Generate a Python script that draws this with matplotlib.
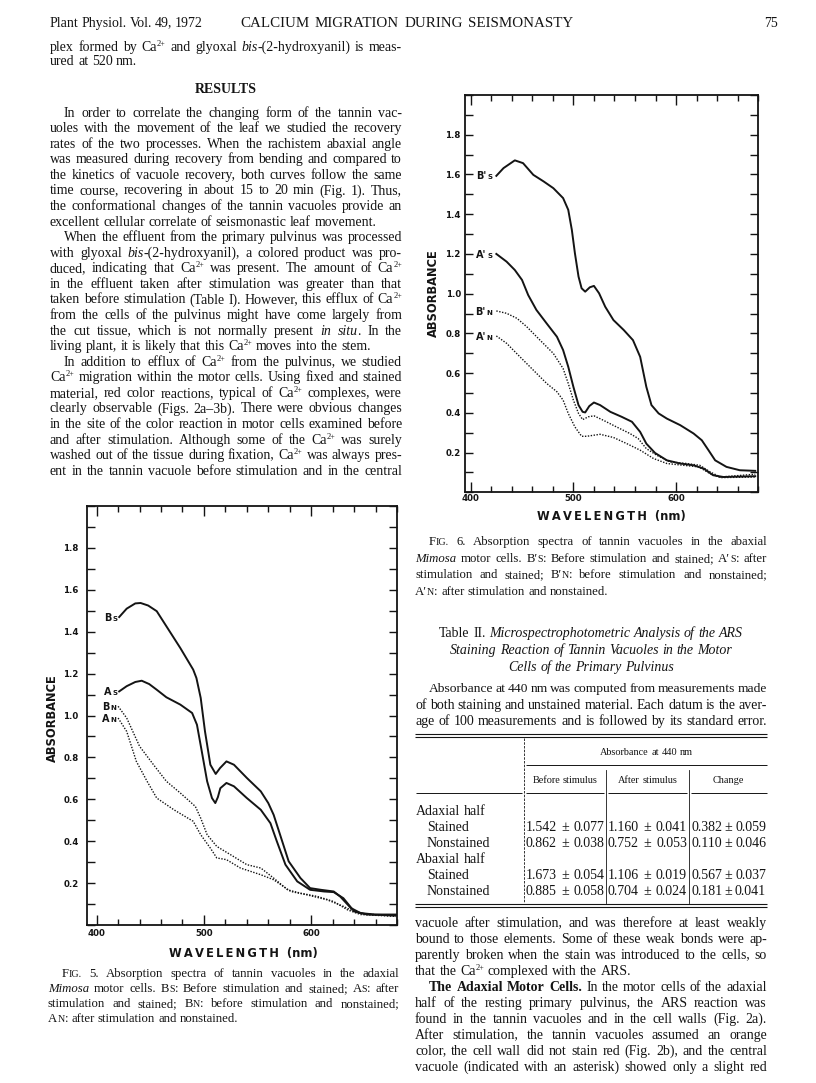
import matplotlib
matplotlib.use('Agg')
import matplotlib.pyplot as plt
from matplotlib.font_manager import FontProperties
from matplotlib.ticker import MultipleLocator

# ---------------- data: Fig. 5 (adaxial) ----------------
fig5_bs_nm = [421, 428, 436, 441, 448, 456, 465, 478, 490, 493, 497, 501, 506, 511, 515, 521, 528, 540,
              553, 560, 565, 571, 579, 590, 599, 609, 621, 627, 637, 646, 659, 679]
fig5_bs_abs = [1.47, 1.51, 1.535, 1.537, 1.525, 1.498, 1.426, 1.322, 1.219, 1.179, 1.084, 0.924, 0.765, 0.721,
               0.749, 0.781, 0.765, 0.702, 0.638, 0.582, 0.526, 0.431, 0.304, 0.224, 0.176, 0.168, 0.160,
               0.136, 0.081, 0.057, 0.050, 0.050]
fig5_as_nm = [421, 428, 436, 442, 449, 456, 465, 478, 489, 493.5, 498, 503, 507.5, 510.6, 513, 515.3, 521,
              528, 540, 553, 562, 568, 576, 587, 599, 612, 621, 630, 640, 652, 679]
fig5_as_abs = [1.115, 1.14, 1.16, 1.166, 1.15, 1.123, 1.087, 1.052, 1.012, 0.956, 0.829, 0.686, 0.606, 0.582,
               0.61, 0.653, 0.678, 0.662, 0.606, 0.55, 0.486, 0.399, 0.288, 0.208, 0.168, 0.16, 0.157, 0.128,
               0.065, 0.05, 0.046]
fig5_bn_nm = [420, 428, 440, 453, 465, 478, 492, 497, 503, 512, 525, 540, 553, 565, 578, 590, 606, 621, 634,
              646, 679]
fig5_bn_abs = [1.044, 0.988, 0.853, 0.765, 0.686, 0.63, 0.566, 0.51, 0.431, 0.375, 0.335, 0.288, 0.272, 0.224,
               0.168, 0.152, 0.136, 0.112, 0.072, 0.05, 0.041]
fig5_an_nm = [420, 428, 437, 447, 456, 472, 490, 497, 506, 512, 521, 534, 553, 565, 581, 596, 615, 630, 643, 679]
fig5_an_abs = [0.988, 0.924, 0.781, 0.686, 0.606, 0.55, 0.495, 0.431, 0.367, 0.32, 0.312, 0.272, 0.24, 0.216,
               0.16, 0.144, 0.12, 0.089, 0.057, 0.041]

# ---------------- data: Fig. 6 (abaxial) ----------------
fig6_bs_nm = [425, 432, 443, 451, 461, 471, 480.5, 490, 495, 498.5, 501.5, 505, 508, 511.5, 516, 520, 525, 531,
              539, 549, 558, 565, 571, 576, 583, 591, 604, 617, 625, 631.5, 638, 649, 662, 677]
fig6_bs_abs = [1.593, 1.632, 1.671, 1.657, 1.598, 1.565, 1.531, 1.481, 1.422, 1.321, 1.203, 1.086, 1.027, 1.01,
               1.032, 1.039, 1.002, 0.934, 0.867, 0.817, 0.766, 0.682, 0.531, 0.439, 0.397, 0.371, 0.338, 0.296,
               0.262, 0.212, 0.161, 0.128, 0.111, 0.108]
fig6_as_nm = [425, 435, 443, 450, 456, 464, 474, 484, 490, 495, 500, 505, 509, 511.5, 515.5, 520, 526, 536, 547,
              557, 565, 571, 579.5, 591, 604, 617, 627, 636, 646, 677]
fig6_as_abs = [1.2, 1.161, 1.119, 1.069, 0.993, 0.918, 0.85, 0.783, 0.716, 0.632, 0.531, 0.439, 0.405, 0.402,
               0.434, 0.452, 0.439, 0.405, 0.38, 0.355, 0.304, 0.245, 0.198, 0.161, 0.145, 0.136, 0.119, 0.086,
               0.077, 0.081]
fig6_bn_nm = [425, 435, 445, 454.5, 467.5, 480.5, 490, 495, 500, 505, 509, 514.5, 520, 529, 542, 555, 563, 571,
              581, 594, 610, 623, 633, 643, 677]
fig6_bn_abs = [0.913, 0.901, 0.876, 0.834, 0.766, 0.699, 0.623, 0.548, 0.464, 0.397, 0.366, 0.38, 0.385, 0.363,
               0.329, 0.296, 0.271, 0.22, 0.187, 0.153, 0.145, 0.136, 0.103, 0.077, 0.091]
fig6_an_nm = [425, 435, 448, 461, 474, 484, 490, 495, 501.5, 508, 513, 526, 539, 552, 565, 578, 591, 607, 622,
              633, 643, 677]
fig6_an_abs = [0.787, 0.75, 0.682, 0.615, 0.548, 0.506, 0.464, 0.397, 0.329, 0.282, 0.282, 0.292, 0.276, 0.245,
               0.212, 0.17, 0.145, 0.136, 0.128, 0.094, 0.074, 0.077]

x_ticks = [400, 500, 600]
y_ticks = [0.2, 0.4, 0.6, 0.8, 1.0, 1.2, 1.4, 1.6, 1.8]

# ---------------- data: Table II ----------------
table_groups = ['Adaxial half', 'Abaxial half']
table_subrows = ['Stained', 'Nonstained']
table_headers = ['Before stimulus', 'After stimulus', 'Change']
before_mean = [1.542, 0.862, 1.673, 0.885]
before_se = [0.077, 0.038, 0.054, 0.058]
after_mean = [1.160, 0.752, 1.106, 0.704]
after_se = [0.041, 0.053, 0.019, 0.024]
change_mean = [0.382, 0.110, 0.567, 0.181]
change_se = [0.059, 0.046, 0.037, 0.041]

# ---------------- page text ----------------
header_left = 'Plant Physiol. Vol. 49, 1972'
header_title = 'CALCIUM MIGRATION DURING SEISMONASTY'
header_page = '75'

left_top = [
    'plex formed by Ca^2+^ and glyoxal _bis_-(2-hydroxyanil) is meas-',
    'ured at 520 nm.|',
]
left_body = [
    '>In order to correlate the changing form of the tannin vac-',
    'uoles with the movement of the leaf we studied the recovery',
    'rates of the two processes. When the rachistem abaxial angle',
    'was measured during recovery from bending and compared to',
    'the kinetics of vacuole recovery, both curves follow the same',
    'time course, recovering in about 15 to 20 min (Fig. 1). Thus,',
    'the conformational changes of the tannin vacuoles provide an',
    'excellent cellular correlate of seismonastic leaf movement.|',
    '>When the effluent from the primary pulvinus was processed',
    'with glyoxal _bis_-(2-hydroxyanil), a colored product was pro-',
    'duced, indicating that Ca^2+^ was present. The amount of Ca^2+^',
    'in the effluent taken after stimulation was greater than that',
    'taken before stimulation (Table I). However, this efflux of Ca^2+^',
    'from the cells of the pulvinus might have come largely from',
    'the cut tissue, which is not normally present _in situ_. In the',
    'living plant, it is likely that this Ca^2+^ moves into the stem.|',
    '>In addition to efflux of Ca^2+^ from the pulvinus, we studied',
    'Ca^2+^ migration within the motor cells. Using fixed and stained',
    'material, red color reactions, typical of Ca^2+^ complexes, were',
    'clearly observable (Figs. 2a\u20133b). There were obvious changes',
    'in the site of the color reaction in motor cells examined before',
    'and after stimulation. Although some of the Ca^2+^ was surely',
    'washed out of the tissue during fixation, Ca^2+^ was always pres-',
    'ent in the tannin vacuole before stimulation and in the central',
]
fig5_caption = [
    '>F~ig.~ 5. Absorption spectra of tannin vacuoles in the adaxial',
    '_Mimosa_ motor cells. B~s~: Before stimulation and stained; A~s~: after',
    'stimulation and stained; B~n~: before stimulation and nonstained;',
    'A~n~: after stimulation and nonstained.|',
]
fig6_caption = [
    '>F~ig.~ 6. Absorption spectra of tannin vacuoles in the abaxial',
    '_Mimosa_ motor cells. B\u2032~s~: Before stimulation and stained; A\u2032~s~: after',
    'stimulation and stained; B\u2032~n~: before stimulation and nonstained;',
    'A\u2032~n~: after stimulation and nonstained.|',
]
table_title = [
    'Table II. _Microspectrophotometric Analysis of the ARS_',
    '_Staining Reaction of Tannin Vacuoles in the Motor_',
    '_Cells of the Primary Pulvinus_',
]
table_note = [
    '>Absorbance at 440 nm was computed from measurements made',
    'of both staining and unstained material. Each datum is the aver-',
    'age of 100 measurements and is followed by its standard error.',
]
right_bottom = [
    'vacuole after stimulation, and was therefore at least weakly',
    'bound to those elements. Some of these weak bonds were ap-',
    'parently broken when the stain was introduced to the cells, so',
    'that the Ca^2+^ complexed with the ARS.|',
    '>*The Adaxial Motor Cells.* In the motor cells of the adaxial',
    'half of the resting primary pulvinus, the ARS reaction was',
    'found in the tannin vacuoles and in the cell walls (Fig. 2a).',
    'After stimulation, the tannin vacuoles assumed an orange',
    'color, the cell wall did not stain red (Fig. 2b), and the central',
    'vacuole (indicated with an asterisk) showed only a slight red',
]

# ---------------- figure ----------------
W, H = 816, 1083
fig = plt.figure(figsize=(W / 100, H / 100), dpi=100)
fig.patch.set_facecolor('white')
renderer = fig.canvas.get_renderer()

bg = fig.add_axes([0, 0, 1, 1], zorder=-5)
bg.set_xlim(0, W)
bg.set_ylim(H, 0)
bg.axis('off')

SERIF = ['Liberation Serif', 'DejaVu Serif']
SANS = ['DejaVu Sans']
INK = '#141414'


def fprop(size, italic=False, bold=False):
    return FontProperties(family=SERIF, size=size, style='italic' if italic else 'normal',
                          weight='bold' if bold else 'normal')


def parse(line):
    words, cur, buf = [], [], ''
    st = {'i': False, 'b': False, 'p': False, 'c': False}
    keys = {'_': 'i', '*': 'b', '^': 'p', '~': 'c'}
    for ch in line:
        if ch in keys:
            if buf:
                cur.append((buf, dict(st)))
                buf = ''
            st[keys[ch]] = not st[keys[ch]]
        elif ch == ' ':
            if buf:
                cur.append((buf, dict(st)))
                buf = ''
            if cur:
                words.append(cur)
                cur = []
        else:
            buf += ch
    if buf:
        cur.append((buf, dict(st)))
    if cur:
        words.append(cur)
    return words


def seg_info(text, st, size):
    s, dy = size, 0.0
    if st['p']:
        s = size * 0.6
        dy = size * 100 / 72 * 0.36
    if st['c']:
        s = size * 0.78
        text = text.upper()
    fp = fprop(s, st['i'], st['b'])
    w, h, d = renderer.get_text_width_height_descent(text, fp, ismath=False)
    return text, fp, w, dy


def space_width(size):
    a = renderer.get_text_width_height_descent('a a', fprop(size), ismath=False)[0]
    b = renderer.get_text_width_height_descent('aa', fprop(size), ismath=False)[0]
    return a - b


def draw_line(line, x0, x1, y, size, mode='justify'):
    words = parse(line)
    n = len(words)
    while True:
        infos = [[seg_info(t, st, size) for t, st in w] for w in words]
        total = sum(sum(i[2] for i in w) for w in infos)
        sp = space_width(size)
        if mode == 'justify' and n > 1 and (x1 - x0 - total) / (n - 1) < 0.6 * sp and size > 5:
            size -= 0.1
            continue
        break
    if mode == 'justify' and n > 1:
        gap = (x1 - x0 - total) / (n - 1)
        x = x0
    else:
        gap = sp
        lw = total + gap * (n - 1)
        if mode == 'center':
            x = (x0 + x1) / 2 - lw / 2
        elif mode == 'right':
            x = x1 - lw
        else:
            x = x0
    base = y + size * 100 / 72 * 0.33
    for inf in infos:
        for text, fp, sw, dy in inf:
            bg.text(x, base - dy, text, fontproperties=fp, ha='left', va='baseline', color=INK)
            x += sw
        x += gap


def draw_block(lines, col, y0, step, size, indent=14, mode=None):
    y = y0
    for ln in lines:
        x0 = col[0]
        m = 'justify'
        if ln.startswith('>'):
            ln = ln[1:]
            x0 += indent
        if ln.endswith('|'):
            ln = ln[:-1]
            m = 'left'
        if mode is not None:
            m = mode
        draw_line(ln, x0, col[1], y, size, m)
        y += step


LCOL = (50, 402)
RCOL = (415, 767)
BODY = 10.0
CAP = 9.2

# header
draw_line(header_left, 50, 203, 22, BODY, 'justify')
draw_line(header_title, 240, 573, 22, 10.8, 'justify')
draw_line(header_page, 700, 778, 22, BODY, 'right')

# left column text
draw_block(left_top, LCOL, 46, 14.5, BODY)
draw_line('*RESULTS*', LCOL[0], LCOL[1], 88, BODY, 'center')
draw_block(left_body, LCOL, 112, 15.57, BODY)

# captions
draw_block(fig5_caption, (48, 399), 973, 15.0, CAP)
draw_block(fig6_caption, RCOL, 541, 16.6, CAP)

# table title and note
draw_block(table_title, RCOL, 632, 17.0, BODY, mode='center')
draw_block(table_note, RCOL, 688, 16.0, BODY)

# table
def hline(x0, x1, y, lw=0.8, ls='-'):
    bg.plot([x0, x1], [y, y], color=INK, lw=lw, ls=ls, solid_capstyle='butt')


def vline(x, y0, y1, lw=0.6, ls='-'):
    bg.plot([x, x], [y0, y1], color=INK, lw=lw, ls=ls)


hline(415, 767, 733.5)
hline(415, 767, 736.5)
vline(524, 738, 903, ls=(0, (3, 1.5)))
vline(606, 770, 903)
vline(689, 770, 903)
hline(526, 767, 765, lw=0.7)
for a, b in ((416, 522), (526, 604), (608, 687), (691, 767)):
    hline(a, b, 793, lw=0.7)
hline(415, 767, 903.5)
hline(415, 767, 906.5)

draw_line('Absorbance at 440 nm', 526, 767, 752, 7.4, 'center')
col_bounds = [(525, 605), (607, 688), (690, 767)]
for (a, b), hd in zip(col_bounds, table_headers):
    draw_line(hd, a, b, 780, 7.4, 'center')

row_y = [810, 826, 842, 858, 874, 890]
cols = [(before_mean, before_se), (after_mean, after_se), (change_mean, change_se)]
k = 0
for gi, grp in enumerate(table_groups):
    draw_line(grp, 416, 520, row_y[gi * 3], BODY, 'left')
    for si, sub in enumerate(table_subrows):
        y = row_y[gi * 3 + 1 + si]
        draw_line(sub, 427, 520, y, BODY, 'left')
        for (a, b), (mv, sv) in zip(col_bounds, cols):
            draw_line('%.3f \u00b1 %.3f' % (mv[k], sv[k]), a + 1, b - 1, y, BODY, 'justify')
        k += 1

# right column bottom text
draw_block(right_bottom, RCOL, 922, 16.0, BODY)

# ---------------- charts ----------------
TICKFONT = dict(family=SANS, weight='bold', size=6.2)
LABFONT = FontProperties(family=SANS, weight='bold', size=8.3)


def style_axes(ax, xlim, ylab_xy, xlab_xy, ypad, xpad):
    ax.set_xlim(*xlim)
    ax.set_ylim(0, 2.0)
    ax.set_xticks(x_ticks, labels=[str(v) for v in x_ticks], **TICKFONT)
    ax.set_yticks(y_ticks, labels=['%.1f' % v for v in y_ticks], **TICKFONT)
    ax.xaxis.set_minor_locator(MultipleLocator(20))
    ax.yaxis.set_minor_locator(MultipleLocator(0.1))
    ax.tick_params(which='both', direction='in', top=True, right=True, width=1.0, color=INK,
                   labelcolor=INK)
    ax.tick_params(axis='x', which='major', length=7, pad=xpad)
    ax.tick_params(axis='x', which='minor', length=4)
    ax.tick_params(axis='y', which='both', length=6, pad=ypad)
    for sp in ax.spines.values():
        sp.set_linewidth(1.3)
        sp.set_color(INK)
    ax.set_ylabel('ABSORBANCE', fontproperties=LABFONT, va='center', color=INK)
    ax.yaxis.set_label_coords(*ylab_xy)
    ax.set_xlabel('W\u2009A\u2009V\u2009E\u2009L\u2009E\u2009N\u2009G\u2009T\u2009H  (nm)', fontproperties=LABFONT,
                  va='center', color=INK)
    ax.xaxis.set_label_coords(*xlab_xy)


def series_label(ax, x, y, big, small, gap=1.5):
    sfp = FontProperties(family=SANS, weight='bold', size=5.0)
    bfp = FontProperties(family=SANS, weight='bold', size=7.0)
    sw = renderer.get_text_width_height_descent(small, sfp, ismath=False)[0] * 72 / 100
    ax.annotate(small, xy=(x, y), xytext=(-gap, -2.6), textcoords='offset points', ha='right',
                va='baseline', fontproperties=sfp, color=INK)
    ax.annotate(big, xy=(x, y), xytext=(-gap - sw - 0.3, -2.6), textcoords='offset points', ha='right',
                va='baseline', fontproperties=bfp, color=INK)


DOT = (0, (1.0, 1.1))

ax5 = fig.add_axes([87 / W, 1 - 925 / H, 310 / W, 419 / H])
ax5.plot(fig5_bs_nm, fig5_bs_abs, color=INK, lw=1.4)
ax5.plot(fig5_as_nm, fig5_as_abs, color=INK, lw=1.4)
ax5.plot(fig5_bn_nm, fig5_bn_abs, color=INK, lw=1.0, ls=DOT)
ax5.plot(fig5_an_nm, fig5_an_abs, color=INK, lw=1.0, ls=DOT)
style_axes(ax5, (391, 680), (-0.11, 0.494), (0.503, -0.067), 6.0, 3.0)
series_label(ax5, fig5_bs_nm[0], fig5_bs_abs[0], 'B', 'S')
series_label(ax5, fig5_as_nm[0], fig5_as_abs[0], 'A', 'S')
series_label(ax5, fig5_bn_nm[0], fig5_bn_abs[0], 'B', 'N')
series_label(ax5, fig5_an_nm[0], fig5_an_abs[0], 'A', 'N')

ax6 = fig.add_axes([465 / W, 1 - 492.3 / H, 293.3 / W, 397.3 / H])
ax6.plot(fig6_bs_nm, fig6_bs_abs, color=INK, lw=1.4)
ax6.plot(fig6_as_nm, fig6_as_abs, color=INK, lw=1.4)
ax6.plot(fig6_bn_nm, fig6_bn_abs, color=INK, lw=1.0, ls=DOT)
ax6.plot(fig6_an_nm, fig6_an_abs, color=INK, lw=1.0, ls=DOT)
style_axes(ax6, (394.5, 680), (-0.109, 0.502), (0.498, -0.06), 3.0, 1.5)
series_label(ax6, fig6_bs_nm[0], fig6_bs_abs[0], "B'", 'S', gap=3)
series_label(ax6, fig6_as_nm[0], fig6_as_abs[0], "A'", 'S', gap=3)
series_label(ax6, fig6_bn_nm[0], fig6_bn_abs[0], "B'", 'N', gap=3)
series_label(ax6, fig6_an_nm[0], fig6_an_abs[0], "A'", 'N', gap=3)

fig.savefig('out.png', dpi=100, facecolor='white')
